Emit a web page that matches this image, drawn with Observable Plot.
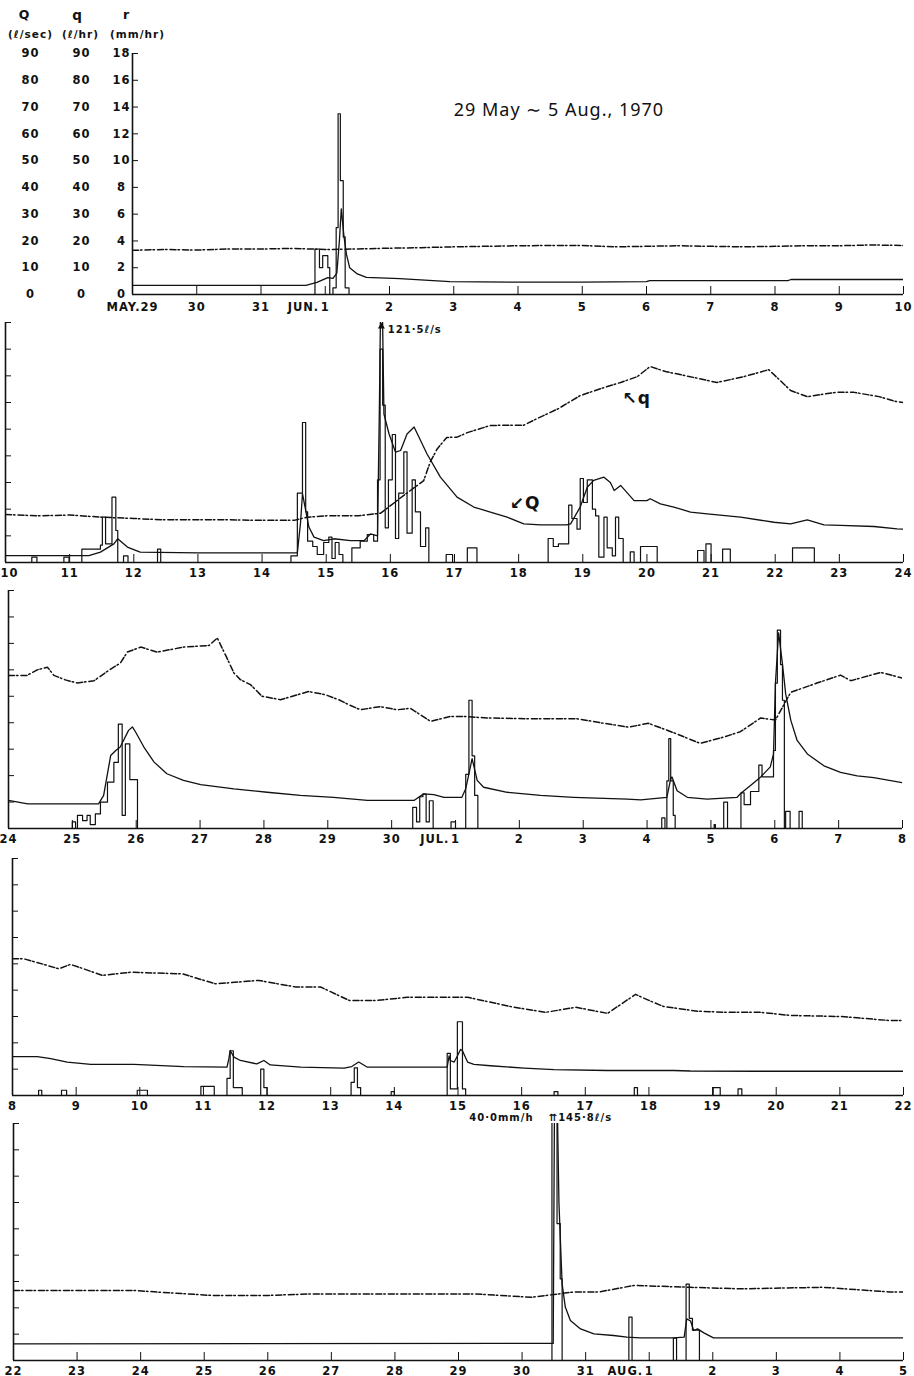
<!DOCTYPE html>
<html><head><meta charset="utf-8">
<script src="https://cdn.jsdelivr.net/npm/d3@7"></script>
<script src="https://cdn.jsdelivr.net/npm/@observablehq/plot@0.6"></script>
<style>
body{margin:0;background:#fff;}
#chart{width:914px;}
#chart svg{display:block;}
</style></head><body><div id="chart"></div>
<script>
// time t = days since 29 May 1970 (0h); values: Q (l/sec), q (l/hr), r (mm/hr)
const title = "29 May \u223C 5 Aug., 1970";

// ---------- panel 1 : 29 May – 10 Jun ----------
const dayLabels1 = ["MAY.29","30","31","1","2","3","4","5","6","7","8","9","10"];
const Q1 = [[0,3.4],[2.7,3.4],[2.87,4.5],[3.04,6.3],[3.12,6.0],[3.18,8],[3.22,20],[3.25,32],[3.29,22],[3.33,15],[3.38,10],[3.49,7.8],[3.64,6.4],[4.16,5.9],[4.94,4.8],[6,4.6],[7,4.6],[8,4.8],[8.05,5.2],[10.2,5.2],[10.25,5.6],[12,5.6]];
const q1 = [[0,16.5],[0.5,16.8],[1,16.6],[1.5,17],[2,17],[2.5,17.2],[3,16.8],[3.5,17],[4,17.3],[4.5,17.5],[5,17.8],[5.5,18],[6,18.2],[6.5,18.3],[7,18.3],[7.5,17.8],[8,18],[8.5,18.2],[9,18],[9.5,17.8],[10,18],[10.5,18.2],[11,18.2],[11.5,18.5],[12,18.3]];
const r1 = [[0,0],[2.84,3.4],[2.91,2.0],[2.96,2.9],[3.04,2.0],[3.07,0],[3.12,0.5],[3.17,5.0],[3.2,13.5],[3.235,8.5],[3.28,4.3],[3.31,0.5],[3.37,0],[12,0]];

// ---------- panel 2 : 10 Jun – 24 Jun ----------
const dayLabels2 = ["10","11","12","13","14","15","16","17","18","19","20","21","22","23","24"];
const Q2 = [[12,2.6],[13.3,2.6],[13.48,3.9],[13.69,7.0],[13.75,8.9],[13.9,5.8],[14.1,3.9],[15,3.6],[16,3.6],[16.55,3.6],[16.6,15],[16.63,25.8],[16.73,13.3],[16.81,9.5],[16.96,8.2],[17.12,8.9],[17.38,8.2],[17.59,8.2],[17.69,10.7],[17.8,10],[17.83,60],[17.86,121.5],[17.9,55.7],[17.98,48.2],[18.08,41.4],[18.16,42],[18.26,48.2],[18.37,50.8],[18.57,40.8],[18.78,32],[19.04,24.5],[19.3,20.8],[19.56,18.9],[19.82,17],[20.08,14.5],[20.34,14.1],[20.75,14.1],[20.81,14.5],[20.96,20.8],[21.07,28.2],[21.17,30.8],[21.33,32],[21.43,30],[21.49,27],[21.59,28.9],[21.8,23.2],[22.0,23.2],[22.05,23.9],[22.21,22],[22.42,20.8],[22.68,18.9],[22.94,18.2],[23.46,17],[23.98,15.1],[24.24,14.5],[24.5,16],[24.76,14.1],[25.02,13.9],[25.54,13.5],[25.9,12.6],[26,12.5]];
const q2 = [[12,18],[12.5,17.5],[13,17.8],[13.5,17],[14,16.5],[14.5,16],[15,16],[15.5,16],[16,15.8],[16.5,15.8],[16.7,17],[17,17.5],[17.5,17.5],[17.85,18.5],[18.2,25],[18.52,30.7],[18.62,37.6],[18.73,42.6],[18.88,46.9],[19.04,47],[19.2,48.7],[19.56,51.4],[20.08,51.5],[20.29,54],[20.62,57.7],[20.96,62.6],[21.33,65.6],[21.59,67.5],[21.85,69.7],[22.05,73.5],[22.29,71.6],[22.73,69.4],[23.09,67.5],[23.51,69.7],[23.9,72.3],[24.08,68.2],[24.24,64.5],[24.5,62.2],[24.94,63.8],[25.23,63.8],[25.62,62.2],[25.88,60.4],[26,60]];
const r2 = [[12,0],[12.41,0.4],[12.49,0],[12.91,0.4],[12.99,0],[13.19,1.0],[13.48,1.3],[13.51,3.4],[13.56,1.4],[13.66,4.9],[13.72,2.4],[13.75,0],[13.84,0.5],[13.91,0],[14.37,1.0],[14.42,0],[16.45,0.5],[16.55,5.2],[16.63,10.5],[16.68,3.8],[16.71,1.6],[16.79,1.2],[16.86,0.6],[16.96,1.5],[17.04,1.9],[17.09,0.3],[17.14,1.5],[17.2,0.6],[17.26,0],[17.4,1.1],[17.53,1.6],[17.64,2.1],[17.74,1.6],[17.8,6.2],[17.84,16],[17.88,11.8],[17.92,2.6],[17.97,6.2],[18.03,9.6],[18.08,1.8],[18.13,5.2],[18.21,8.3],[18.26,2.2],[18.34,6.2],[18.39,3.8],[18.47,1.2],[18.55,2.6],[18.6,0],[18.87,0.6],[18.97,0],[19.2,1.1],[19.35,0],[20.46,1.8],[20.54,1.2],[20.62,1.4],[20.78,4.3],[20.83,3.3],[20.91,2.5],[20.96,6.3],[21.01,4.5],[21.07,6.2],[21.15,4],[21.2,3.5],[21.25,0.4],[21.33,3.4],[21.38,1.1],[21.46,0.5],[21.51,3.4],[21.56,1.8],[21.63,0],[21.74,0.8],[21.8,0],[21.9,1.2],[22.16,0],[22.79,0.9],[22.89,0],[22.92,1.4],[23.0,0],[23.18,1.0],[23.3,0],[24.27,1.1],[24.61,0],[26,0]];

// ---------- panel 3 : 24 Jun – 8 Jul ----------
const dayLabels3 = ["24","25","26","27","28","29","30","1","2","3","4","5","6","7","8"];
const Q3 = [[26,10.6],[26.3,9.3],[27.41,9.3],[27.49,12.5],[27.6,27.6],[27.68,29.5],[27.75,30.8],[27.88,37.1],[27.94,38.4],[27.99,36.5],[28.12,30.8],[28.28,25.1],[28.48,20.7],[28.74,18.2],[29.01,16.6],[29.53,15],[30.05,13.7],[30.57,12.5],[31.09,11.8],[31.62,10.6],[32.35,10.6],[32.5,13.1],[32.66,12.8],[32.82,11.8],[33.1,11.8],[33.16,15],[33.26,26.4],[33.34,18.2],[33.44,15.6],[33.81,13.7],[34.33,12.5],[34.85,11.8],[35.69,11.1],[35.9,10.8],[36.31,11.8],[36.37,18.8],[36.39,19.5],[36.47,14.3],[36.63,11.8],[36.94,11.1],[37.41,11.8],[37.46,13.1],[37.62,16.3],[37.78,19.5],[37.93,23.3],[37.98,28.2],[38.01,54.8],[38.06,74],[38.12,62.3],[38.17,51],[38.25,41],[38.35,33.3],[38.51,28.2],[38.77,23.7],[39.03,21.2],[39.29,19.9],[39.55,19.2],[40,17.3]];
const q3 = [[26,57.9],[26.29,57.9],[26.45,60],[26.61,61],[26.71,57.9],[26.89,56.2],[27.08,55],[27.34,55.9],[27.6,60.3],[27.75,62.5],[27.86,66.7],[28.07,68.6],[28.33,66.7],[28.74,68.6],[29.14,69.2],[29.27,72],[29.42,64.5],[29.53,58.8],[29.63,56.3],[29.79,54.4],[29.97,50],[30.26,48.7],[30.7,51.8],[30.96,50.6],[31.17,48.7],[31.33,46.8],[31.51,44.9],[31.82,46.1],[32.09,44.9],[32.29,45.5],[32.61,40.5],[32.92,42.4],[33.13,42.4],[33.49,41.8],[34.15,41.5],[34.9,41.5],[35.27,40],[35.71,38.3],[36.02,39.8],[36.44,36],[36.83,32.2],[37.22,34.7],[37.46,36.6],[37.78,41.8],[38.01,41],[38.25,51.5],[38.66,55],[39.03,58],[39.19,55.9],[39.66,59],[40,56.9]];
const r3 = [[26,0],[27.0,0.5],[27.05,0],[27.08,1.0],[27.16,0.6],[27.23,1.0],[27.28,0.3],[27.36,1.1],[27.44,2.0],[27.55,3.5],[27.65,5.0],[27.72,7.9],[27.78,1.0],[27.83,6.4],[27.9,3.7],[28.02,0],[32.33,1.6],[32.39,0.5],[32.44,2.4],[32.49,2.6],[32.54,0.5],[32.59,2.1],[32.65,0],[32.93,0.5],[33.0,0],[33.16,4.1],[33.21,9.7],[33.26,5.5],[33.3,2.5],[33.35,0],[36.23,0.8],[36.28,0],[36.31,3.6],[36.34,6.8],[36.37,3.6],[36.41,1.0],[36.44,0],[37.05,0.3],[37.07,0],[37.2,2.0],[37.26,0],[37.47,2.7],[37.52,1.8],[37.62,2.8],[37.75,4.8],[37.8,3.9],[37.98,5.9],[38.01,11],[38.04,15],[38.09,12.4],[38.12,9.7],[38.15,0],[38.17,1.3],[38.24,0],[38.38,1.3],[38.43,0],[40,0]];

// ---------- panel 4 : 8 Jul – 22 Jul ----------
const dayLabels4 = ["8","9","10","11","12","13","14","15","16","17","18","19","20","21","22"];
const Q4 = [[40,14.8],[40.39,14.8],[40.6,14],[40.86,12.7],[41.23,11.8],[41.91,11.8],[42.69,11],[43.37,10.8],[43.4,14],[43.42,17.1],[43.48,14.6],[43.58,13.3],[43.84,12],[43.95,13.3],[44.05,11.6],[44.53,10.8],[45.21,10.4],[45.33,11],[45.44,12.7],[45.57,10.8],[46.83,10.8],[46.86,15],[46.88,13.3],[46.94,12.7],[46.99,15],[47.04,17.5],[47.07,17],[47.15,12.7],[47.25,11.8],[47.51,11.3],[48.04,10.4],[48.51,9.8],[49.35,9.5],[50.39,9.5],[50.65,9.3],[51.7,9.2],[54,9.2]];
const q4 = [[40,51.9],[40.18,51.9],[40.49,49.8],[40.73,48.1],[40.91,49.8],[41.12,48.1],[41.41,45.6],[41.85,46.8],[42.67,46.2],[43.19,42.4],[43.87,43.7],[44.45,41.2],[44.84,41.2],[45.29,36.1],[45.73,36.1],[46.2,37.3],[46.78,37.3],[47.15,37.3],[47.88,33.5],[48.38,31.6],[48.85,33.5],[49.35,31.2],[49.79,38.4],[50.0,36.1],[50.23,33.8],[50.76,32],[51.23,31.6],[51.75,31.6],[52.22,30.4],[53.01,30],[53.77,28.5],[54,28.5]];
const r4 = [[40,0],[40.41,0.4],[40.46,0],[40.77,0.4],[40.85,0],[41.96,0.4],[42.12,0],[42.96,0.7],[43.17,0],[43.37,1.3],[43.42,3.4],[43.47,0.6],[43.61,0],[43.9,2.0],[43.95,0.6],[44.0,0],[45.32,1.0],[45.37,2.1],[45.42,0.6],[45.47,0],[45.95,0.3],[46.0,0],[46.83,3.2],[46.88,0.5],[46.94,0.5],[46.99,5.6],[47.07,0.5],[47.12,0],[48.51,0.3],[48.57,0],[49.77,0.6],[49.82,0],[51.01,0.6],[51.12,0],[51.4,0.5],[51.46,0],[54,0]];

// ---------- panel 5 : 22 Jul – 5 Aug ----------
const dayLabels5 = ["22","23","24","25","26","27","28","29","30","31","1","2","3","4","5"];
const Q5 = [[54,6.3],[62.49,6.5],[62.52,145.8],[62.58,60],[62.63,29.1],[62.68,20.3],[62.76,15.2],[62.92,12],[63.13,10.1],[63.44,9.5],[63.65,8.9],[63.86,8.6],[64.38,8.6],[64.55,8.9],[64.59,15.8],[64.65,15],[64.7,11.4],[64.76,12],[64.86,10.5],[65.01,8.6],[68,8.6]];
const q5 = [[54,26.6],[54.84,26.6],[55.89,26.6],[56.26,26],[57.12,24.7],[57.99,24.7],[58.7,25.3],[60.09,25.3],[61.03,25.3],[61.24,25.3],[62.14,24],[62.81,26],[63.2,26],[63.76,28.5],[64.65,27.8],[65.44,27.2],[66.74,27.8],[67.79,26],[68,26]];
const r5 = [[54,0],[62.47,40],[62.55,10.4],[62.6,6.2],[62.63,0],[63.68,3.3],[63.73,0],[64.38,1.7],[64.43,0],[64.58,5.8],[64.63,3.2],[64.68,2.3],[64.79,0],[68,0]];

// month prefixes placed before the first day of a month
const monthMarks = [{t:3,label:"JUN."},{t:33,label:"JUL."},{t:64,label:"AUG."}];
// y-axis tick values (Q and q share the scale, r = value / 5)
const yTicks = [0,10,20,30,40,50,60,70,80,90];
// column headers of panel 1
const headers = [
  {dx: -108, dy: -43, text: "Q", size: 12.5}, {dx: -55, dy: -43, text: "q", size: 13.5}, {dx: -6, dy: -43, text: "r", size: 12.5},
  {dx: -102, dy: -23, text: "(\u2113/sec)", size: 10.5}, {dx: -52, dy: -23, text: "(\u2113/hr)", size: 10.5}, {dx: 5, dy: -23, text: "(mm/hr)", size: 10.5}
];
// annotations
const notes2 = [
  {t:17.96, v:87.4, text:"121\u00B75\u2113/s", anchor:"start", size:10},
  {t:21.62, v:61.5, text:"\u2196q", anchor:"start", size:17},
  {t:19.86, v:22, text:"\u2199Q", anchor:"start", size:17}
];
const notes5 = [
  {t:62.18, v:92.3, text:"40\u00B70mm/h", anchor:"end", size:10},
  {t:62.42, v:92.3, text:"\u21C8145\u00B78\u2113/s", anchor:"start", size:10}
];
const peakArrow = [{t: 17.86, v: 88.5}];

const panels = [
  {domain:[0,12],  labels:dayLabels1, Q:Q1, q:q1, r:r1, height:311, mt:53, mb:17, ml:132, mr:11, notes:[]},
  {domain:[12,26], labels:dayLabels2, Q:Q2, q:q2, r:r2, height:267, mt:11, mb:16, ml:5,   mr:11, notes:notes2},
  {domain:[26,40], labels:dayLabels3, Q:Q3, q:q3, r:r3, height:272, mt:12, mb:22, ml:8,   mr:12, notes:[]},
  {domain:[40,54], labels:dayLabels4, Q:Q4, q:q4, r:r4, height:260, mt:8,  mb:15, ml:12,  mr:11, notes:[]},
  {domain:[54,68], labels:dayLabels5, Q:Q5, q:q5, r:r5, height:266, mt:13, mb:16, ml:13,  mr:11, notes:notes5}
];

const FONT = "DejaVu Sans";

function makePanel(p, idx) {
  const ticks = p.labels.map((_, k) => p.domain[0] + k);
  const lab = new Map(ticks.map((t, k) => [t, p.labels[k]]));
  const months = monthMarks.filter(m => m.t >= p.domain[0] && m.t <= p.domain[1]);
  const pad = idx === 0 ? 16.5 : 14.5;
  // when the left margin is too narrow, the first day label is left-aligned to stay inside the picture
  const narrow = p.ml < 8;
  const firstLabel = narrow ? [{t: ticks[0], label: p.labels[0]}] : [];
  const marks = [
    Plot.ruleY([0], {stroke: "#111", strokeWidth: 1.6}),
    Plot.ruleX([p.domain[0]], {stroke: "#111", strokeWidth: 1.6}),
    Plot.axisX({ticks, tickFormat: d => (narrow && d === ticks[0]) ? "" : lab.get(d), tickSize: -8, tickPadding: pad, label: null,
      fontSize: 11.5, fontWeight: "bold"}),
    Plot.text(firstLabel, {x: "t", text: "label", frameAnchor: "bottom", dy: pad - 8, dx: -p.ml,
      lineAnchor: "top", textAnchor: "start", fontSize: 11.5, fontWeight: "bold"}),
    Plot.text(months, {x: "t", text: "label", frameAnchor: "bottom", dy: pad - 8, dx: -6,
      lineAnchor: "top", textAnchor: "end", fontSize: 11.5, fontWeight: "bold"}),
    // rainfall histogram (r in mm/hr, 1 mm/hr = 5 units)
    Plot.line(p.r, {x: d => d[0], y: d => d[1] * 5, curve: "step-after", stroke: "#111", strokeWidth: 1.2, clip: true}),
    // discharge Q
    Plot.line(p.Q, {x: d => d[0], y: d => d[1], stroke: "#111", strokeWidth: 1.3, clip: true}),
    // q
    Plot.line(p.q, {x: d => d[0], y: d => d[1], stroke: "#111", strokeWidth: 1.5, strokeDasharray: "6,2,1.5,3", clip: true})
  ];
  if (idx === 0) {
    marks.push(
      Plot.axisY({ticks: yTicks, tickSize: -6, tickPadding: 17, textAnchor: "middle", label: null,
        tickFormat: d => d / 5, fontSize: 11.5, fontWeight: "bold"}),
      Plot.axisY({ticks: yTicks, tickSize: 0, tickPadding: 0, dx: -51, textAnchor: "middle", label: null,
        tickFormat: d => d, fontSize: 11.5, fontWeight: "bold"}),
      Plot.axisY({ticks: yTicks, tickSize: 0, tickPadding: 0, dx: -102, textAnchor: "middle", label: null,
        tickFormat: d => d, fontSize: 11.5, fontWeight: "bold"}),
      ...headers.map(h => Plot.text([h.text], {text: d => d, frameAnchor: "top-left", dx: h.dx, dy: h.dy,
        textAnchor: "middle", fontSize: h.size, fontWeight: "bold"})),
      Plot.text([title], {x: () => 5, y: () => 68.7, text: d => d, textAnchor: "start",
        fontSize: 18, fontWeight: "normal", fontFamily: "Noto Sans"})
    );
  } else {
    marks.push(Plot.axisY({ticks: yTicks.filter(d => d > 0), tickSize: -6, tickFormat: () => "", label: null}));
  }
  const starts = p.notes.filter(n => n.anchor === "start");
  const ends = p.notes.filter(n => n.anchor === "end");
  if (starts.length) marks.push(Plot.text(starts, {x: "t", y: "v", text: "text", textAnchor: "start", fontSize: d => d.size, fontWeight: "bold"}));
  if (ends.length) marks.push(Plot.text(ends, {x: "t", y: "v", text: "text", textAnchor: "end", fontSize: d => d.size, fontWeight: "bold"}));
  if (idx === 1) {
    marks.push(Plot.dot(peakArrow, {x: "t", y: "v", symbol: "triangle", r: 2.6, fill: "#111"}));
  }
  return Plot.plot({
    width: 914, height: p.height,
    marginTop: p.mt, marginBottom: p.mb, marginLeft: p.ml, marginRight: p.mr,
    x: {domain: p.domain, label: null},
    y: {domain: [0, 90], label: null},
    style: {fontFamily: FONT, fontSize: "11px", color: "#111", background: "#fff", overflow: "visible", letterSpacing: "1px"},
    marks
  });
}

const root = document.getElementById("chart");
panels.forEach((p, i) => root.append(makePanel(p, i)));
</script>
</body></html>
